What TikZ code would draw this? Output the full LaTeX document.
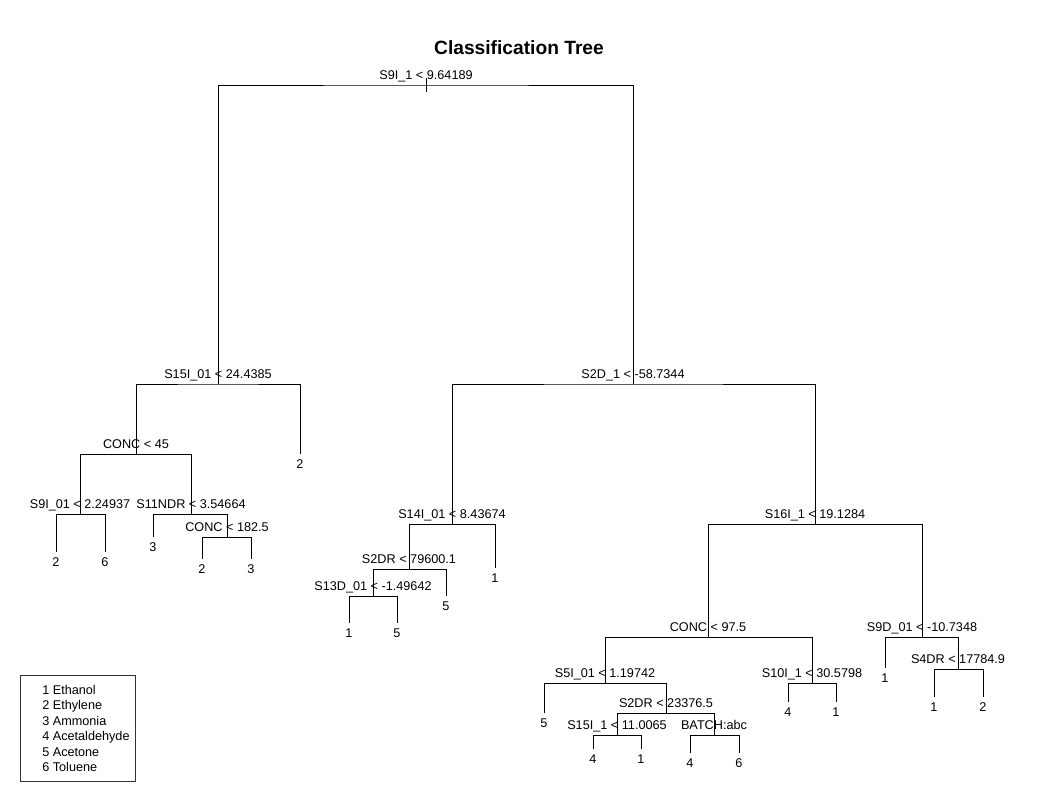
\documentclass[tikz,border=0pt]{standalone}
\usepackage{fontspec}
\setmainfont{Liberation Sans}
\begin{document}
\begin{tikzpicture}[x=0.75pt,y=-0.75pt,
  edge/.style={line width=0.65pt, black},
  splitlbl/.style={anchor=base, inner sep=0pt, yshift=4.5pt, font=\fontsize{9.5}{11}\selectfont},
  leaflbl/.style={anchor=north, inner sep=0pt, yshift=-3.8pt, font=\fontsize{9.5}{11}\selectfont},
  legitem/.style={anchor=base west, inner sep=0pt, font=\fontsize{9.5}{11}\selectfont},
  titlelbl/.style={inner sep=0pt, font=\fontsize{14.4}{17}\selectfont\bfseries}]
\useasboundingbox (0,0) rectangle (1039,801);
% title
\node[titlelbl] (title) at (519,48) {Classification Tree};
% tree coordinates
\coordinate (rtop) at (426,78);
\coordinate (n1) at (426,85);
\coordinate (n2) at (218,384);
\coordinate (n3) at (633,384);
\coordinate (n4) at (136,454);
\coordinate (l5) at (300,454);
\coordinate (n8) at (80,514);
\coordinate (n9) at (191,514);
\coordinate (l16) at (56,552);
\coordinate (l17) at (105,552);
\coordinate (l18) at (153,537);
\coordinate (n19) at (227,537);
\coordinate (l38) at (202,559);
\coordinate (l39) at (251,559);
\coordinate (n6) at (452,524);
\coordinate (n7) at (815,524);
\coordinate (n12) at (409,569);
\coordinate (l13) at (495,568);
\coordinate (n24) at (373,596);
\coordinate (l25) at (446,596);
\coordinate (l48) at (349,623);
\coordinate (l49) at (397,623);
\coordinate (n14) at (708,637);
\coordinate (n15) at (922,637);
\coordinate (n28) at (605,683);
\coordinate (n29) at (812,683);
\coordinate (l56) at (544,713);
\coordinate (n57) at (666,713);
\coordinate (n114) at (617,735);
\coordinate (n115) at (714,735);
\coordinate (l228) at (593,749);
\coordinate (l229) at (641,749);
\coordinate (l230) at (690,753);
\coordinate (l231) at (739,753);
\coordinate (l58) at (788,702);
\coordinate (l59) at (836,702);
\coordinate (l30) at (885,668);
\coordinate (n31) at (958,669);
\coordinate (l62) at (934,697);
\coordinate (l63) at (983,697);
% edges
\draw[edge] (rtop) -- ([yshift=-5.25pt]n1);
\draw[edge] (n2) |- (n1) -| (n3);
\draw[edge] (n4) |- (n2) -| (l5);
\draw[edge] (n8) |- (n4) -| (n9);
\draw[edge] (l16) |- (n8) -| (l17);
\draw[edge] (l18) |- (n9) -| (n19);
\draw[edge] (l38) |- (n19) -| (l39);
\draw[edge] (n6) |- (n3) -| (n7);
\draw[edge] (n12) |- (n6) -| (l13);
\draw[edge] (n24) |- (n12) -| (l25);
\draw[edge] (l48) |- (n24) -| (l49);
\draw[edge] (n14) |- (n7) -| (n15);
\draw[edge] (n28) |- (n14) -| (n29);
\draw[edge] (l56) |- (n28) -| (n57);
\draw[edge] (n114) |- (n57) -| (n115);
\draw[edge] (l228) |- (n114) -| (l229);
\draw[edge] (l230) |- (n115) -| (l231);
\draw[edge] (l58) |- (n29) -| (l59);
\draw[edge] (l30) |- (n15) -| (n31);
\draw[edge] (l62) |- (n31) -| (l63);
% split labels
\node[splitlbl] (t1) at (n1) {S9I\_1 < 9.64189};
\node[splitlbl] (t2) at (n2) {S15I\_01 < 24.4385};
\node[splitlbl] (t3) at (n3) {S2D\_1 < -58.7344};
\node[splitlbl] (t4) at (n4) {CONC < 45};
\node[splitlbl] (t8) at (n8) {S9I\_01 < 2.24937};
\node[splitlbl] (t9) at (n9) {S11NDR < 3.54664};
\node[splitlbl] (t19) at (n19) {CONC < 182.5};
\node[splitlbl] (t6) at (n6) {S14I\_01 < 8.43674};
\node[splitlbl] (t7) at (n7) {S16I\_1 < 19.1284};
\node[splitlbl] (t12) at (n12) {S2DR < 79600.1};
\node[splitlbl] (t24) at (n24) {S13D\_01 < -1.49642};
\node[splitlbl] (t14) at (n14) {CONC < 97.5};
\node[splitlbl] (t15) at (n15) {S9D\_01 < -10.7348};
\node[splitlbl] (t28) at (n28) {S5I\_01 < 1.19742};
\node[splitlbl] (t29) at (n29) {S10I\_1 < 30.5798};
\node[splitlbl] (t57) at (n57) {S2DR < 23376.5};
\node[splitlbl] (t114) at (n114) {S15I\_1 < 11.0065};
\node[splitlbl] (t115) at (n115) {BATCH:abc};
\node[splitlbl] (t31) at (n31) {S4DR < 17784.9};
% leaf labels
\node[leaflbl] (c5) at (l5) {2};
\node[leaflbl] (c16) at (l16) {2};
\node[leaflbl] (c17) at (l17) {6};
\node[leaflbl] (c18) at (l18) {3};
\node[leaflbl] (c38) at (l38) {2};
\node[leaflbl] (c39) at (l39) {3};
\node[leaflbl] (c13) at (l13) {1};
\node[leaflbl] (c25) at (l25) {5};
\node[leaflbl] (c48) at (l48) {1};
\node[leaflbl] (c49) at (l49) {5};
\node[leaflbl] (c56) at (l56) {5};
\node[leaflbl] (c228) at (l228) {4};
\node[leaflbl] (c229) at (l229) {1};
\node[leaflbl] (c230) at (l230) {4};
\node[leaflbl] (c231) at (l231) {6};
\node[leaflbl] (c58) at (l58) {4};
\node[leaflbl] (c59) at (l59) {1};
\node[leaflbl] (c30) at (l30) {1};
\node[leaflbl] (c62) at (l62) {1};
\node[leaflbl] (c63) at (l63) {2};
% legend
\draw[line width=0.6pt, black!80] (20,675) rectangle (135,781);
\node[legitem] (g1) at (42,694.5) {1 Ethanol};
\node[legitem] (g2) at (42,709.9) {2 Ethylene};
\node[legitem] (g3) at (42,725.3) {3 Ammonia};
\node[legitem] (g4) at (42,740.7) {4 Acetaldehyde};
\node[legitem] (g5) at (42,756.1) {5 Acetone};
\node[legitem] (g6) at (42,771.5) {6 Toluene};
\end{tikzpicture}
\end{document}
